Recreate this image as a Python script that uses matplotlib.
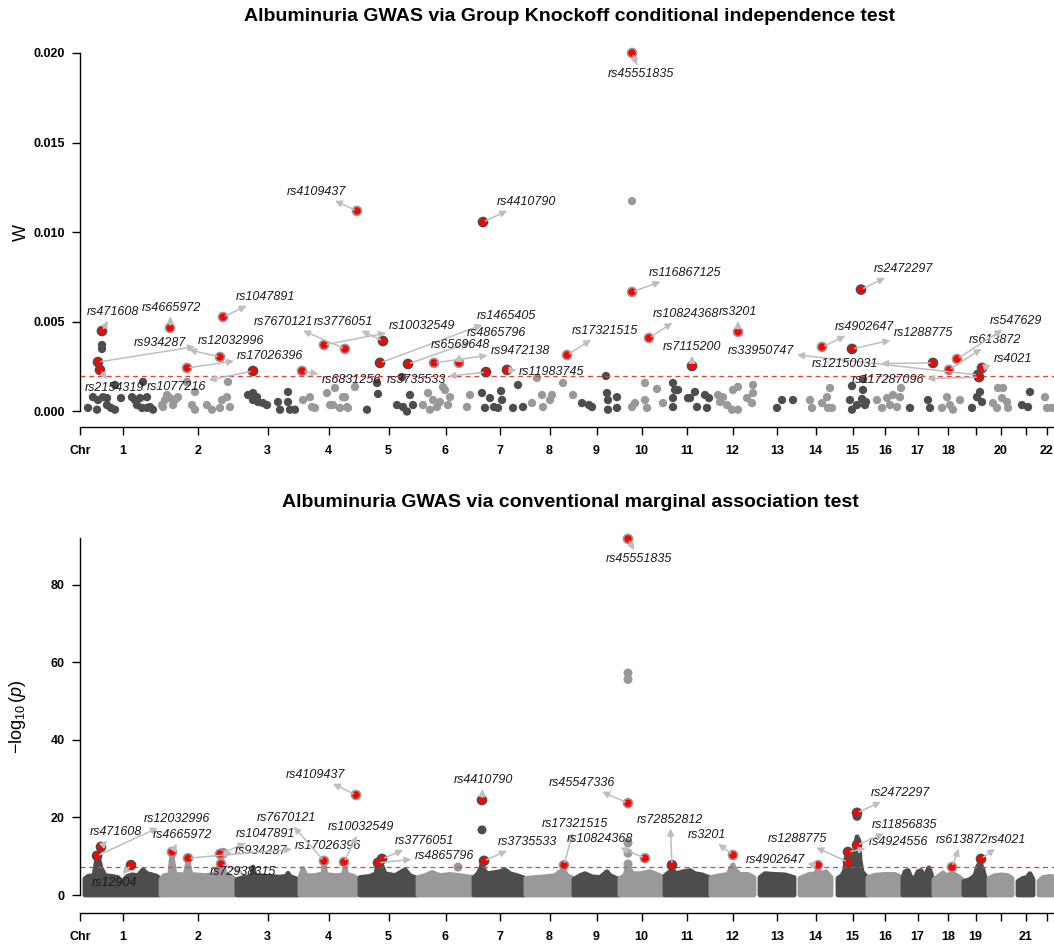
import numpy as np
import matplotlib
matplotlib.use('Agg')
import matplotlib.pyplot as plt

plt.rcParams['font.family'] = ['Liberation Sans', 'DejaVu Sans']
plt.rcParams['mathtext.fontset'] = 'custom'
plt.rcParams['mathtext.rm'] = 'Liberation Sans'
plt.rcParams['mathtext.it'] = 'Liberation Sans:italic'

FIG_W, FIG_H = 1054, 946

DARK = '#4d4d4d'
LIGHT = '#999999'
HIT = '#ff0000'
ARROW = '#bebebe'
THRESH_COLOR = '#e8413c'

TITLE_TOP = 'Albuminuria GWAS via Group Knockoff conditional independence test'
TITLE_BOTTOM = 'Albuminuria GWAS via conventional marginal association test'

# chromosome extents on the cumulative genome axis
CHROM_NAMES = [str(i) for i in range(1, 23)]
CHROM_START = [5, 81, 157, 220, 280, 338, 394, 446, 494, 540, 585, 631,
               680, 720, 758, 788, 823, 854, 884, 909, 938, 959]
CHROM_END = [80, 155, 218, 277, 337, 393, 445, 493, 539, 583, 629, 674,
             714, 751, 787, 822, 852, 882, 907, 932, 953, 974]

W_THRESHOLD = 0.002
P_THRESHOLD = 5e-8

# group knockoff statistics, background groups
KNOCK_POS = [8, 17, 13, 18, 23, 27, 31, 35, 27, 41, 52, 55, 60, 63, 67, 57, 62, 67, 73, 70, 35, 22, 22,
             82, 85, 87, 90, 95, 98, 83, 93, 107, 112, 115, 115, 127, 132, 140, 142, 147, 148, 150,
             168, 173, 173, 178, 183, 187, 177, 198, 200, 208, 208, 210, 215,
             223, 230, 232, 235, 247, 255, 253, 263, 260, 267, 275, 250, 265, 268,
             287, 297, 298, 317, 323, 330, 333, 327, 322,
             343, 348, 350, 353, 357, 360, 365, 368, 363, 370, 387, 390,
             402, 405, 410, 414, 421, 422, 418, 433, 438, 443,
             452, 457, 462, 463, 470, 472, 483, 493,
             502, 509, 512, 526, 527, 528, 528, 537, 537,
             552, 555, 565, 565, 567, 577, 583, 552,
             593, 595, 593, 593, 598, 608, 615, 617, 625, 627, 610, 629,
             638, 640, 643, 647, 652, 653, 658, 658, 667, 672, 673, 673,
             697, 702, 713,
             730, 732, 742, 747, 748, 750, 752,
             772, 770, 772, 777, 782, 783, 785, 786, 783,
             797, 802, 807, 810, 813, 817, 820, 821,
             830, 848, 850,
             862, 867, 870, 873, 880,
             892, 897, 900, 902,
             913, 918, 923, 922, 927, 928, 917,
             942, 948, 950,
             965, 967, 972]
KNOCK_W = [0.0002, 0.0001, 0.0008, 0.00064, 0.0008, 0.00036, 0.0002, 0.0001, 0.00075, 0.00075, 0.0008,
           0.00064, 0.00075, 0.00165, 0.0008, 0.00036, 0.0002, 0.0002, 0.0001, 0.00025, 0.00148,
           0.00371, 0.00349,
           0.00036, 0.00064, 0.00092, 0.00075, 0.00064, 0.0008, 0.00025, 0.00036, 0.00165, 0.00036,
           0.0001, 0.00109, 0.00036, 0.0001, 0.0002, 0.00064, 0.0008, 0.00165, 0.00025,
           0.00092, 0.00103, 0.00064, 0.00053, 0.00047, 0.00036, 0.0008, 0.00053, 0.0001, 0.00109,
           0.00053, 0.0001, 0.0001,
           0.00064, 0.0008, 0.00025, 0.0002, 0.00103, 0.00131, 0.00036, 0.0008, 0.0002, 0.00025,
           0.00137, 0.00036, 0.0008, 0.0002,
           0.0001, 0.00159, 0.00098, 0.00036, 0.00025, 0.00092, 0.00036, 0.0, 0.00192,
           0.00036, 0.00103, 0.0001, 0.00064, 0.00025, 0.00053, 0.0012, 0.00036, 0.00137, 0.0008,
           0.00025, 0.00092,
           0.00103, 0.0002, 0.00075, 0.00025, 0.00114, 0.00064, 0.0002, 0.0002, 0.00148, 0.00025,
           0.00047, 0.00187, 0.00092, 0.00025, 0.00064, 0.00092, 0.00159, 0.00092,
           0.00047, 0.00036, 0.00025, 0.00198, 0.00103, 0.00064, 0.0001, 0.0008, 0.0002,
           0.00025, 0.00047, 0.00159, 0.00064, 0.0002, 0.00126, 0.00047, 0.01174,
           0.00159, 0.0012, 0.00075, 0.00025, 0.0012, 0.00075, 0.00109, 0.00025, 0.00092, 0.0002,
           0.00075, 0.00075,
           0.00092, 0.00053, 0.0008, 0.00036, 0.0001, 0.0012, 0.00137, 0.0001, 0.00075, 0.00047,
           0.00148, 0.00103,
           0.0002, 0.00064, 0.00064,
           0.00064, 0.0002, 0.00047, 0.0008, 0.0002, 0.00131, 0.0002,
           0.00142, 0.00064, 0.0001, 0.00036, 0.0007, 0.0012, 0.00036, 0.00053, 0.00181,
           0.00064, 0.0002, 0.00075, 0.00036, 0.00092, 0.00025, 0.0008, 0.00131,
           0.0002, 0.00064, 0.0002,
           0.0002, 0.0008, 0.00036, 0.0001, 0.00064,
           0.0002, 0.0008, 0.00109, 0.00053,
           0.00047, 0.00131, 0.00131, 0.00075, 0.00053, 0.0002, 0.0002,
           0.00036, 0.00025, 0.00109,
           0.0008, 0.0002, 0.0002]

# group knockoff discoveries
KNOCK_SNP = ['rs471608', 'rs4665972', 'rs1047891', 'rs12032996', 'rs2154319', 'rs934287',
             'rs17026396', 'rs1077216', 'rs6831256', 'rs7670121', 'rs3776051', 'rs10032549',
             'rs1465405', 'rs4865796', 'rs6569648', 'rs9472138', 'rs3735533', 'rs11983745',
             'rs4109437', 'rs4410790', 'rs17321515', 'rs45551835', 'rs116867125', 'rs10824368',
             'rs7115200', 'rs3201', 'rs2472297', 'rs4902647', 'rs1288775', 'rs33950747',
             'rs12150031', 'rs117287096', 'rs613872', 'rs547629', 'rs4021']
KNOCK_HIT_POS = [22, 90, 143, 18, 20, 140, 107, 173, 222, 265, 303, 244, 300, 328, 379, 354, 406, 427,
                 277, 403, 487, 552, 552, 569, 612, 658, 781, 742, 772, 898, 853, 899, 869, 877, 902]
KNOCK_HIT_W = [0.00449, 0.00466, 0.00527, 0.00276, 0.00232, 0.00304, 0.00243, 0.00226, 0.00226,
               0.00349, 0.00393, 0.00371, 0.00271, 0.00265, 0.00271, 0.00271, 0.0022, 0.00232,
               0.01119, 0.01057, 0.00315, 0.0200, 0.00667, 0.0041, 0.00254, 0.00444, 0.0068,
               0.0036, 0.00349, 0.00204, 0.00271, 0.00192, 0.00232, 0.00293, 0.00243]

# marginal association: silhouette of the dense SNP cloud per chromosome
MARG_PROFILE_POS = [5, 8, 14, 16, 17, 19, 21, 25, 32, 38, 40, 43, 47, 52, 58, 63, 67, 72, 77, 80,
                    81, 84, 90, 91, 92, 93, 95, 105, 107, 108, 109, 111, 125, 135, 139, 141, 143, 145, 150, 155,
                    157, 165, 172, 173, 175, 190, 200, 207, 208, 210, 218,
                    220, 223, 226, 235, 243, 244, 246, 255, 263, 265, 267, 272, 277,
                    280, 290, 296, 298, 300, 302, 305, 315, 325, 330, 337,
                    338, 345, 352, 360, 370, 380, 393,
                    394, 398, 401, 402, 404, 407, 415, 420, 425, 430, 437, 445,
                    446, 455, 465, 475, 480, 484, 487, 493,
                    494, 500, 505, 512, 520, 527, 530, 539,
                    540, 545, 547, 548, 550, 553, 560, 570, 577, 583,
                    585, 590, 592, 596, 603, 610, 615, 622, 629,
                    631, 640, 648, 651, 653, 655, 660, 668, 674,
                    680, 685, 695, 705, 714,
                    720, 728, 735, 738, 742, 746, 751,
                    758, 762, 765, 766, 768, 770, 772, 774, 776, 777, 779, 780, 782, 787,
                    788, 795, 805, 815, 822,
                    823, 825, 828, 831, 835, 838, 841, 844, 847, 849, 851, 852,
                    854, 858, 863, 866, 870, 873, 877, 882,
                    884, 890, 895, 898, 900, 903, 905, 907,
                    909, 915, 922, 928, 932,
                    938, 943, 947, 950, 953,
                    959, 963, 970, 978, 980]
MARG_PROFILE_LOGP = [4.2, 4.8, 5.0, 8.0, 9.8, 9.0, 7.0, 5.0, 4.8, 4.5, 3.2, 3.5, 4.8, 5.2, 5.0, 6.5, 5.5, 5.2, 4.8, 4.0,
                     4.0, 5.0, 5.2, 8.5, 10.3, 8.5, 5.3, 5.2, 7.5, 9.0, 7.5, 5.3, 5.0, 5.3, 7.5, 10.0, 8.0, 5.3, 5.0, 4.0,
                     4.0, 4.6, 4.8, 7.2, 5.0, 4.8, 4.6, 4.9, 5.6, 4.8, 4.0,
                     4.5, 6.8, 5.0, 5.0, 5.5, 7.8, 5.3, 5.0, 5.1, 7.0, 5.3, 5.0, 4.3,
                     4.5, 4.8, 5.5, 8.3, 9.0, 7.5, 5.5, 5.0, 6.5, 5.0, 4.3,
                     4.5, 5.0, 5.8, 5.0, 5.3, 5.0, 4.5,
                     4.5, 5.5, 7.0, 8.0, 6.5, 5.5, 5.8, 6.0, 6.5, 5.5, 5.0, 4.3,
                     4.3, 4.5, 4.7, 5.0, 6.0, 6.3, 5.0, 4.3,
                     4.0, 5.0, 5.5, 4.7, 4.5, 6.0, 5.0, 4.0,
                     4.3, 5.0, 7.0, 8.0, 6.5, 5.5, 5.5, 6.0, 5.3, 4.5,
                     5.0, 6.0, 6.5, 5.5, 6.0, 6.3, 5.5, 5.2, 4.5,
                     4.5, 5.0, 5.3, 7.0, 7.8, 6.5, 5.3, 5.3, 4.5,
                     4.5, 5.5, 5.3, 5.2, 4.5,
                     4.3, 5.2, 5.5, 6.3, 5.5, 6.0, 4.5,
                     4.3, 5.0, 6.5, 9.5, 10.5, 9.5, 7.0, 9.0, 13.5, 15.0, 14.0, 9.0, 6.0, 4.5,
                     4.5, 5.1, 5.3, 5.3, 4.5,
                     4.5, 6.0, 6.3, 4.5, 4.3, 6.0, 6.3, 4.5, 6.0, 7.0, 5.5, 4.5,
                     4.0, 4.7, 5.7, 5.0, 5.3, 5.5, 5.0, 4.0,
                     3.5, 4.0, 5.0, 7.5, 8.3, 6.5, 4.5, 3.5,
                     4.3, 5.0, 5.2, 5.0, 4.3,
                     3.5, 4.3, 4.5, 5.5, 4.0,
                     3.5, 4.5, 4.8, 4.5, 3.5]

# isolated SNPs standing out of the cloud
MARG_EXTRA_POS = [548, 548, 548, 548, 548, 402, 777, 378]
MARG_EXTRA_LOGP = [57.3, 55.6, 13.4, 10.8, 8.0, 16.8, 20.3, 7.2]

# marginal discoveries
MARG_SNP = ['rs471608', 'rs12032996', 'rs12904', 'rs4665972', 'rs1047891', 'rs934287', 'rs17026396',
            'rs72938315', 'rs4109437', 'rs7670121', 'rs10032549', 'rs3776051', 'rs4865796',
            'rs4410790', 'rs3735533', 'rs17321515', 'rs10824368', 'rs45547336', 'rs45551835',
            'rs72852812', 'rs3201', 'rs4902647', 'rs1288775', 'rs4924556', 'rs2472297',
            'rs11856835', 'rs613872', 'rs4021']
MARG_HIT_POS = [21, 17, 51, 92, 143, 140, 108, 141, 276, 244, 264, 302, 298, 402, 404, 484, 565, 548,
                548, 592, 653, 738, 768, 768, 777, 777, 872, 901]
MARG_HIT_LOGP = [12.4, 10.1, 7.7, 11.1, 10.8, 10.6, 9.5, 8.0, 25.8, 8.8, 8.5, 9.3, 8.3, 24.5, 8.8,
                 7.7, 9.5, 23.7, 91.9, 7.7, 10.3, 7.7, 8.5, 11.1, 21.2, 12.9, 7.2, 9.3]

# where the repelled labels ended up
KNOCK_LABEL_XY = [(33, 0.00555), (91, 0.0058), (185, 0.00639), (151, 0.00393), (34, 0.00131),
                  (80, 0.00382), (190, 0.0031), (96, 0.00137), (271, 0.00176), (203, 0.005),
                  (263, 0.005), (342, 0.00477), (426, 0.00533), (416, 0.00438), (380, 0.0037),
                  (440, 0.00338), (336, 0.00176), (472, 0.0022), (236, 0.01225), (446, 0.01169),
                  (525, 0.00449), (561, 0.01883), (605, 0.00773), (606, 0.00544), (612, 0.0036),
                  (658, 0.00555), (823, 0.00795), (784, 0.00471), (843, 0.00438), (681, 0.00338),
                  (765, 0.00265), (808, 0.00176), (915, 0.00399), (936, 0.00505), (933, 0.00293)]
MARG_LABEL_XY = [(36, 16.3), (97, 19.6), (34, 3.1), (102, 15.5), (185, 15.7), (181, 11.4),
                 (248, 12.6), (163, 5.9), (235, 31.0), (206, 19.9), (281, 17.5), (344, 13.9),
                 (364, 10.1), (403, 29.6), (447, 13.7), (495, 18.3), (520, 14.5), (502, 28.9),
                 (559, 86.7), (590, 19.4), (627, 15.5), (695, 9.0), (717, 14.5), (818, 13.7),
                 (820, 26.3), (825, 18.1), (882, 14.2), (927, 14.2)]


def chrom_color(pos):
    idx = np.searchsorted(CHROM_START, pos, side='right') - 1
    idx = np.clip(idx, 0, len(CHROM_START) - 1)
    return np.where(idx % 2 == 0, DARK, LIGHT)


def px_axes(fig, left, top, right, bottom):
    return fig.add_axes([left / FIG_W, 1 - bottom / FIG_H,
                         (right - left) / FIG_W, (bottom - top) / FIG_H])


def style_axes(ax, ylim, spine_top, yticks, yticklabels, hidden, title, title_pad):
    ax.set_xlim(0, 980)
    ax.set_ylim(*ylim)
    for side in ('top', 'right'):
        ax.spines[side].set_visible(False)
    ax.spines['left'].set_bounds(0, spine_top)
    ax.spines['left'].set_linewidth(1.0)
    ax.spines['bottom'].set_linewidth(1.0)

    centers = [(s + e) / 2 for s, e in zip(CHROM_START, CHROM_END)]
    names = ['' if n in hidden else n for n in CHROM_NAMES]
    ax.set_xticks([0] + centers)
    ax.set_xticklabels(['Chr'] + names, fontweight='bold', fontsize=9)
    ax.set_yticks(yticks)
    ax.set_yticklabels(yticklabels, fontweight='bold', fontsize=9)
    ax.tick_params(axis='x', direction='out', length=6, width=1, pad=7)
    ax.tick_params(axis='y', direction='out', length=6, width=1, pad=5)
    ax.set_title(title, fontweight='bold', fontsize=14, pad=title_pad)


def label_hits(ax, snps, xs, ys, label_xy):
    for snp, x, y, (lx, ly) in zip(snps, xs, ys, label_xy):
        ax.annotate(snp, xy=(x, y), xytext=(lx, ly), textcoords='data',
                    ha='center', va='center', fontsize=9, fontstyle='italic',
                    color='#1a1a1a', zorder=5, annotation_clip=False,
                    arrowprops=dict(arrowstyle='<|-,head_length=0.45,head_width=0.22',
                                    color=ARROW, lw=1.1, shrinkA=0, shrinkB=2))


def knockoff_panel(fig):
    ax = px_axes(fig, 80, 45, 1060, 427)
    style_axes(ax, (-0.000865, 0.020446), 0.020,
               [0, 0.005, 0.010, 0.015, 0.020],
               ['0.000', '0.005', '0.010', '0.015', '0.020'],
               {'19', '21'}, TITLE_TOP, 17)

    pos = np.array(KNOCK_POS)
    ax.scatter(pos, KNOCK_W, s=36, c=chrom_color(pos), linewidths=0, zorder=2)
    ax.axhline(W_THRESHOLD, color=THRESH_COLOR, lw=0.9, dashes=(4, 3), zorder=2.5)

    hits = np.array(KNOCK_HIT_POS)
    ax.scatter(hits, KNOCK_HIT_W, s=42, c=HIT, edgecolors=chrom_color(hits),
               linewidths=1.2, zorder=3, clip_on=False)
    label_hits(ax, KNOCK_SNP, KNOCK_HIT_POS, KNOCK_HIT_W, KNOCK_LABEL_XY)

    ax.set_ylabel('W', fontsize=13)
    ax.yaxis.set_label_coords(-0.051, 0.51)


def marginal_panel(fig):
    ax = px_axes(fig, 80, 535, 1060, 913)
    style_axes(ax, (-4.645, 92.9), 92.1,
               [0, 20, 40, 60, 80], ['0', '20', '40', '60', '80'],
               {'20', '22'}, TITLE_BOTTOM, 20)

    pos = np.array(MARG_PROFILE_POS)
    logp = np.array(MARG_PROFILE_LOGP)
    chrom = np.searchsorted(CHROM_START, pos, side='right') - 1
    for i in range(len(CHROM_START)):
        xs = pos[chrom == i]
        ys = logp[chrom == i]
        xs = np.concatenate([[xs[0]], xs, [xs[-1]]])
        ys = np.concatenate([[0], ys, [0]])
        color = DARK if i % 2 == 0 else LIGHT
        ax.fill(xs, ys, facecolor=color, edgecolor=color, lw=3.5,
                joinstyle='round', zorder=1)

    extra = np.array(MARG_EXTRA_POS)
    ax.scatter(extra, MARG_EXTRA_LOGP, s=42, c=chrom_color(extra), linewidths=0, zorder=2)
    ax.axhline(-np.log10(P_THRESHOLD), color=THRESH_COLOR, lw=0.9, dashes=(4, 3), zorder=2.5)

    hits = np.array(MARG_HIT_POS)
    ax.scatter(hits, MARG_HIT_LOGP, s=42, c=HIT, edgecolors=chrom_color(hits),
               linewidths=1.2, zorder=3, clip_on=False)
    label_hits(ax, MARG_SNP, MARG_HIT_POS, MARG_HIT_LOGP, MARG_LABEL_XY)

    ax.set_ylabel(r'$-\log_{10}(p)$', fontsize=13)
    ax.yaxis.set_label_coords(-0.053, 0.5185)


def main():
    fig = plt.figure(figsize=(FIG_W / 100, FIG_H / 100), dpi=100)
    knockoff_panel(fig)
    marginal_panel(fig)
    fig.savefig('out.png', dpi=100)


if __name__ == '__main__':
    main()
